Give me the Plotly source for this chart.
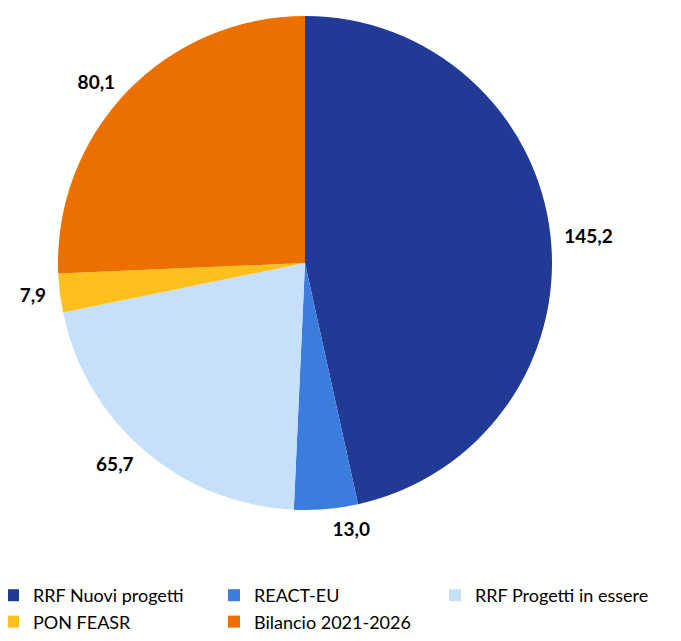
import plotly.graph_objects as go

labels = ["RRF Nuovi progetti", "REACT-EU", "RRF Progetti in essere", "PON FEASR", "Bilancio 2021-2026"]
values = [145.2, 13.0, 65.7, 7.9, 80.1]
colors = ["#203A95", "#3A7DDC", "#C6E0FB", "#FFC01E", "#EC7000"]

W, H = 681, 641
B = 100                 # bottom margin reserved for the legend
HP = H - B              # plot-area height
OFF = 8                 # page body margin of the html page
cx, cy, r = 305 - OFF, 263 - OFF, 247
r_lab = min(r + 10, cy)  # radius of the (transparent) ring that carries the value labels


def dom(rad):
    y0 = max(0.0, (HP - (cy + rad)) / HP)
    y1 = min(1.0, (HP - (cy - rad)) / HP)
    return dict(x=[(cx - rad) / W, (cx + rad) / W], y=[y0, y1])


fig = go.Figure()
# visible pie
fig.add_trace(go.Pie(
    labels=labels,
    values=values,
    sort=False,
    direction="clockwise",
    rotation=0,
    marker=dict(colors=colors, line=dict(width=0)),
    textinfo="none",
    domain=dom(r),
    hoverinfo="label+value",
    showlegend=True,
))
# transparent companion pie that only places the outside value labels a bit further out
fig.add_trace(go.Pie(
    labels=labels,
    values=values,
    sort=False,
    direction="clockwise",
    rotation=0,
    marker=dict(colors=["rgba(0,0,0,0)"] * len(values), line=dict(width=0)),
    textposition="outside",
    texttemplate="%{value:.1f}",
    textfont=dict(family="Lato", size=19, color="#000000", weight="bold"),
    domain=dom(r_lab),
    hoverinfo="skip",
    showlegend=False,
))

fig.update_layout(
    width=W, height=H,
    separators=",.",
    paper_bgcolor="white",
    plot_bgcolor="white",
    margin=dict(l=0, r=0, t=0, b=B, autoexpand=False),
    font=dict(family="Lato", size=18, color="#000000"),
    showlegend=True,
    legend=dict(
        orientation="h",
        x=-15 / W, xanchor="left",
        y=-28 / HP, yanchor="top",
        entrywidth=176, entrywidthmode="pixels",
        font=dict(family="Lato", size=18, color="#000000"),
        bgcolor="rgba(0,0,0,0)",
    ),
)

fig.write_html("out.html")
